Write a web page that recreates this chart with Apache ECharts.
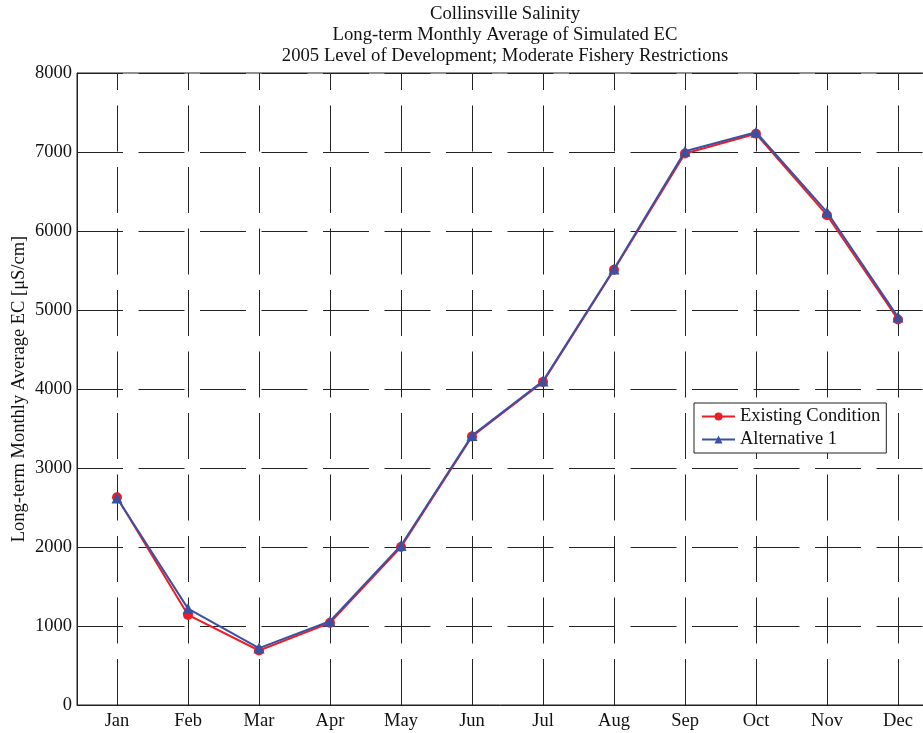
<!DOCTYPE html>
<html>
<head>
<meta charset="utf-8">
<script src="https://cdn.jsdelivr.net/npm/echarts@6/dist/echarts.min.js"></script>
<style>
html,body{margin:0;padding:0;background:#fff;}
#chart{width:923px;height:733px;}
</style>
</head>
<body>
<div id="chart"></div>
<script>
var months = ['Jan','Feb','Mar','Apr','May','Jun','Jul','Aug','Sep','Oct','Nov','Dec'];
var monthPos = [1,2,3,4,5,6,7,8,9,10,11,12];
var existingCondition = [2630, 1140, 690, 1040, 2000, 3400, 4090, 5510, 6980, 7230, 6200, 4880];
var alternative1 = [2620, 1220, 720, 1060, 2020, 3410, 4100, 5520, 7010, 7250, 6240, 4910];
var yTicks = [0,1000,2000,3000,4000,5000,6000,7000,8000];
var titleLines = ['Collinsville Salinity','Long-term Monthly Average of Simulated EC','2005 Level of Development; Moderate Fishery Restrictions'];
var seriesNames = ['Existing Condition','Alternative 1'];

var FONT = '"Liberation Serif","DejaVu Serif",serif';
var chart = echarts.init(document.getElementById('chart'));

function pairs(vals){ return vals.map(function(v,i){ return [monthPos[i], v]; }); }

var dash = [46, 15.5];
var option = {
  backgroundColor: '#fff',
  animation: false,
  title: {
    text: titleLines.join('\n'),
    left: 505,
    top: 3.5,
    padding: 0,
    textAlign: 'center',
    textStyle: { fontFamily: FONT, fontSize: 18.7, fontWeight: 'normal', color: '#111', lineHeight: 21 }
  },
  grid: { left: 77, top: 73, width: 861, bottom: 28, containLabel: false, outerBoundsMode: 'none', show: true, borderColor: '#222', borderWidth: 1, backgroundColor: 'transparent' },
  legend: {
    orient: 'vertical',
    left: 694, top: 403,
    data: seriesNames,
    itemWidth: 33, itemHeight: 10, itemGap: 4,
    padding: [4, 6, 4, 7],
    backgroundColor: '#fff',
    borderColor: '#222', borderWidth: 1,
    textStyle: { fontFamily: FONT, fontSize: 18.5, color: '#111' }
  },
  xAxis: {
    type: 'value',
    min: 1 - 40/71,
    max: 12 + 40/71,
    axisLine: { show: true, onZero: false, lineStyle: { color: '#222', width: 1 } },
    axisTick: { show: true, inside: true, length: 7, customValues: monthPos, lineStyle: { color: '#222' } },
    axisLabel: {
      customValues: monthPos,
      formatter: function(v){ return months[Math.round(v)-1] || ''; },
      fontFamily: FONT, fontSize: 18.5, color: '#111', margin: 7
    },
    splitLine: { show: true, lineStyle: { color: '#222', width: 1, type: dash, dashOffset: 29 } }
  },
  yAxis: {
    type: 'value',
    min: 0, max: 8000, interval: 1000,
    name: 'Long-term Monthly Average EC [\u03bcS/cm]',
    nameLocation: 'middle',
    nameRotate: 90,
    nameGap: 48,
    nameMoveOverlap: false,
    nameTextStyle: { fontFamily: FONT, fontSize: 18.5, color: '#111' },
    axisLine: { show: true, lineStyle: { color: '#222', width: 1 } },
    axisTick: { show: true, inside: true, length: 7, lineStyle: { color: '#222' } },
    axisLabel: { fontFamily: FONT, fontSize: 18.5, color: '#111', margin: 5, formatter: function(v){ return String(v); } },
    splitLine: { show: true, lineStyle: { color: '#222', width: 1, type: dash } }
  },
  series: [
    {
      name: seriesNames[0], type: 'line', data: pairs(existingCondition),
      symbol: 'circle', symbolSize: 10,
      lineStyle: { color: '#ee1c24', width: 2 },
      itemStyle: { color: '#ee1c24' },
      z: 3
    },
    {
      name: seriesNames[1], type: 'line', data: pairs(alternative1),
      symbol: 'triangle', symbolSize: 11,
      lineStyle: { color: '#3a50a2', width: 2 },
      itemStyle: { color: '#3a50a2' },
      z: 4
    }
  ]
};
chart.setOption(option);
</script>
</body>
</html>
